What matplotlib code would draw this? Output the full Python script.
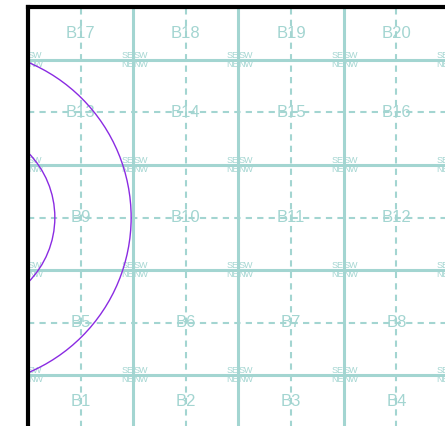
import matplotlib
matplotlib.use("Agg")
import matplotlib.pyplot as plt
from matplotlib.patches import Circle

# cell labels, bottom row first
cell_labels = [
    ["B1", "B2", "B3", "B4"],
    ["B5", "B6", "B7", "B8"],
    ["B9", "B10", "B11", "B12"],
    ["B13", "B14", "B15", "B16"],
    ["B17", "B18", "B19", "B20"],
]
# corner tags around each grid crossing: (name, ha, va)
corner_tags = [("SE", "right", "bottom"), ("SW", "left", "bottom"),
               ("NE", "right", "top"), ("NW", "left", "top")]

circle_center = (-0.62, 2.5)
circle_radii = [0.875, 1.6]

x_view = (0, 4)
y_view = (0.5, 4.5)

grid_color = "#a3d5d1"
ring_color = "#8a2be2"


def build_chart():
    """Draws the labelled grid with the two range rings."""
    fig = plt.figure(figsize=(4.45, 4.26), dpi=100)
    ax = fig.add_axes([28 / 445, 1 - 428 / 426, 421 / 445, 421 / 426])
    ax.set_xlim(*x_view)
    ax.set_ylim(*y_view)
    ax.set_xticks([])
    ax.set_yticks([])

    n_rows = len(cell_labels)
    n_cols = len(cell_labels[0])

    # solid cell borders and dashed centre lines
    for i in range(n_cols + 1):
        ax.axvline(i, color=grid_color, lw=2.2, zorder=1)
        ax.axvline(i + 0.5, color=grid_color, lw=1.5, ls=(0, (3, 2.5)), zorder=1)
    for j in range(n_rows + 1):
        ax.axhline(j, color=grid_color, lw=2.2, zorder=1)
        ax.axhline(j + 0.5, color=grid_color, lw=1.5, ls=(0, (3, 2.5)), zorder=1)

    # cell names, centred in the visible part of each cell
    for r, row in enumerate(cell_labels):
        lo = max(r, y_view[0])
        hi = min(r + 1, y_view[1])
        for c, name in enumerate(row):
            ax.text(c + 0.5, (lo + hi) / 2, name, ha="center", va="center",
                    fontsize=12, color=grid_color, family="Liberation Sans",
                    zorder=2)

    # corner tags at every crossing inside the view
    for c in range(n_cols + 1):
        for r in range(n_rows + 1):
            if not y_view[0] < r < y_view[1]:
                continue
            for tag, ha, va in corner_tags:
                if c == x_view[0] and ha == "right":
                    continue
                ax.text(c, r, tag, ha=ha, va=va, fontsize=6.5,
                        color=grid_color, family="Liberation Sans",
                        clip_on=True, zorder=2)

    for rad in circle_radii:
        ax.add_patch(Circle(circle_center, rad, fill=False, ec=ring_color,
                            lw=1, zorder=3))

    for side in ["right", "bottom"]:
        ax.spines[side].set_visible(False)
    for side in ["left", "top"]:
        ax.spines[side].set_linewidth(3)
        ax.spines[side].set_zorder(5)

    fig.savefig("out.png", dpi=100)


build_chart()
